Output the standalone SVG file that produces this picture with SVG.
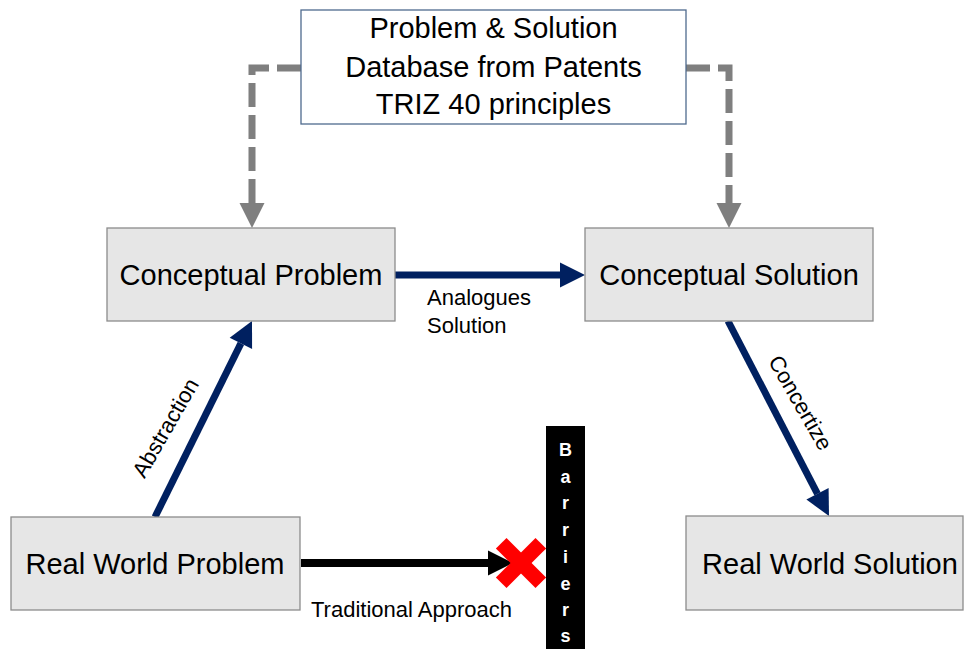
<svg xmlns="http://www.w3.org/2000/svg" width="964" height="649" viewBox="0 0 964 649">
<style>
.box{fill:#E6E6E6;stroke:#8C8C8C;stroke-width:1.3}
.big{font-family:"Liberation Sans",Arial,sans-serif;font-size:29px;fill:#000;text-anchor:middle}
.lbl{font-family:"Liberation Sans",Arial,sans-serif;font-size:22px;fill:#000}
.dash{fill:none;stroke:#7F7F7F;stroke-width:7;stroke-dasharray:24 8}
.navy{fill:none;stroke:#002060;stroke-width:7}
.blk{fill:none;stroke:#000;stroke-width:8}
.bar{font-family:"Liberation Sans",Arial,sans-serif;font-size:18px;font-weight:bold;fill:#fff;text-anchor:middle}
</style>
<defs>
<marker id="hg" markerUnits="userSpaceOnUse" markerWidth="26" markerHeight="26" refX="0" refY="12.5" orient="auto" overflow="visible"><path d="M0,0 L25,12.5 L0,25 z" fill="#7F7F7F"/></marker>
<marker id="hn" markerUnits="userSpaceOnUse" markerWidth="26" markerHeight="26" refX="0" refY="12.5" orient="auto" overflow="visible"><path d="M0,0 L25,12.5 L0,25 z" fill="#002060"/></marker>
<marker id="hb" markerUnits="userSpaceOnUse" markerWidth="26" markerHeight="26" refX="0" refY="12.5" orient="auto" overflow="visible"><path d="M0,0 L25,12.5 L0,25 z" fill="#000"/></marker>
</defs>
<rect width="964" height="649" fill="#fff"/>
<g id="connectors">
<path class="dash" d="M301,68 H252 V203" marker-end="url(#hg)"/>
<path class="dash" d="M686,68 H729 V203" marker-end="url(#hg)"/>
<path class="navy" d="M395,275 H560" marker-end="url(#hn)"/>
<path class="navy" d="M155,517 L240.9,343.4" marker-end="url(#hn)"/>
<path class="navy" d="M728,321 L817.5,493.8" marker-end="url(#hn)"/>
<path class="blk" d="M301,563 H488" marker-end="url(#hb)"/>
<text class="lbl" x="427" y="305">Analogues</text>
<text class="lbl" x="427" y="333">Solution</text>
<text class="lbl" text-anchor="middle" transform="translate(166,428) rotate(-60)" y="7">Abstraction</text>
<text class="lbl" text-anchor="middle" transform="translate(800,403) rotate(60)" y="7">Concertize</text>
<text class="lbl" x="311" y="617">Traditional Approach</text>
</g>
<g id="database">
<rect x="301" y="10" width="385" height="114" fill="#fff" stroke="#4F6A8E" stroke-width="1.3"/>
<text class="big" x="493.5" y="38">Problem &amp; Solution</text>
<text class="big" x="493.5" y="77">Database from Patents</text>
<text class="big" x="493.5" y="114">TRIZ 40 principles</text>
</g>
<g id="conceptual-problem">
<rect class="box" x="107" y="228" width="288" height="93"/>
<text class="big" x="251" y="285">Conceptual Problem</text>
</g>
<g id="conceptual-solution">
<rect class="box" x="585" y="228" width="288" height="93"/>
<text class="big" x="729" y="285">Conceptual Solution</text>
</g>
<g id="real-world-problem">
<rect class="box" x="11" y="517" width="289" height="93"/>
<text class="big" x="155" y="574">Real World Problem</text>
</g>
<g id="real-world-solution">
<rect class="box" x="686" y="516" width="277" height="94"/>
<text class="big" x="830" y="574">Real World Solution</text>
</g>
<g id="barrier-mark">
<g transform="translate(521,563) rotate(45)" fill="#FF0000">
<rect x="-28" y="-7.5" width="56" height="15"/>
<rect x="-7.5" y="-28" width="15" height="56"/>
</g>
</g>
<g id="barriers">
<rect x="546" y="426" width="39" height="223" fill="#000"/>
<text class="bar" x="565.5" y="456">B</text>
<text class="bar" x="565.5" y="483">a</text>
<text class="bar" x="565.5" y="509">r</text>
<text class="bar" x="565.5" y="536">r</text>
<text class="bar" x="565.5" y="563">i</text>
<text class="bar" x="565.5" y="590">e</text>
<text class="bar" x="565.5" y="616">r</text>
<text class="bar" x="565.5" y="642">s</text>
</g>
</svg>
